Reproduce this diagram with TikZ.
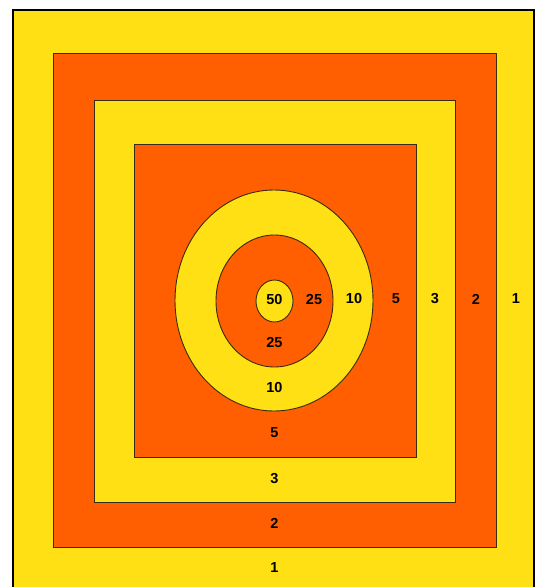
\documentclass[tikz,border=0pt]{standalone}
\usepackage{fontspec}
\setsansfont{Liberation Sans}
\definecolor{TargetYellow}{HTML}{FFE014}
\definecolor{TargetOrange}{HTML}{FF5F00}
\definecolor{EdgeDark}{HTML}{3A2A10}

\begin{document}
\begin{tikzpicture}[x=1pt,y=-1pt,
    ring/.style={draw=EdgeDark,line width=0.9pt},
    score/.style={font=\sffamily\bfseries\fontsize{14.5}{14.5}\selectfont,inner sep=0pt}]
  \clip (0,0) rectangle (536,587);
  \fill[white] (0,0) rectangle (536,587);
  % outer bands
  \filldraw[fill=TargetYellow,draw=black,line width=2pt] (13,10) rectangle (534,600);
  \filldraw[ring,fill=TargetOrange] (53,53) rectangle (496,547);
  \filldraw[ring,fill=TargetYellow] (94,100) rectangle (455,502);
  \filldraw[ring,fill=TargetOrange] (134,144) rectangle (416,457);
  % bull
  \filldraw[ring,fill=TargetYellow] (274,300.5) ellipse [x radius=99,y radius=110.5];
  \filldraw[ring,fill=TargetOrange] (274.5,301) ellipse [x radius=58.5,y radius=66];
  \filldraw[ring,fill=TargetYellow] (274.5,301) ellipse [x radius=18.5,y radius=21];
  % scores
  \node[score] (s50) at (274.5,300) {50};
  \node[score] (s25r) at (314,300) {25};
  \node[score] (s25b) at (274.5,343) {25};
  \node[score] (s10r) at (354,299) {10};
  \node[score] (s10b) at (274.5,388) {10};
  \node[score] (s5r) at (396,299) {5};
  \node[score] (s5b) at (274.5,433) {5};
  \node[score] (s3r) at (435,299) {3};
  \node[score] (s3b) at (274.5,479) {3};
  \node[score] (s2r) at (476,299) {2};
  \node[score] (s2b) at (274.5,523) {2};
  \node[score] (s1r) at (516,299) {1};
  \node[score] (s1b) at (274.5,568) {1};
\end{tikzpicture}
\end{document}
